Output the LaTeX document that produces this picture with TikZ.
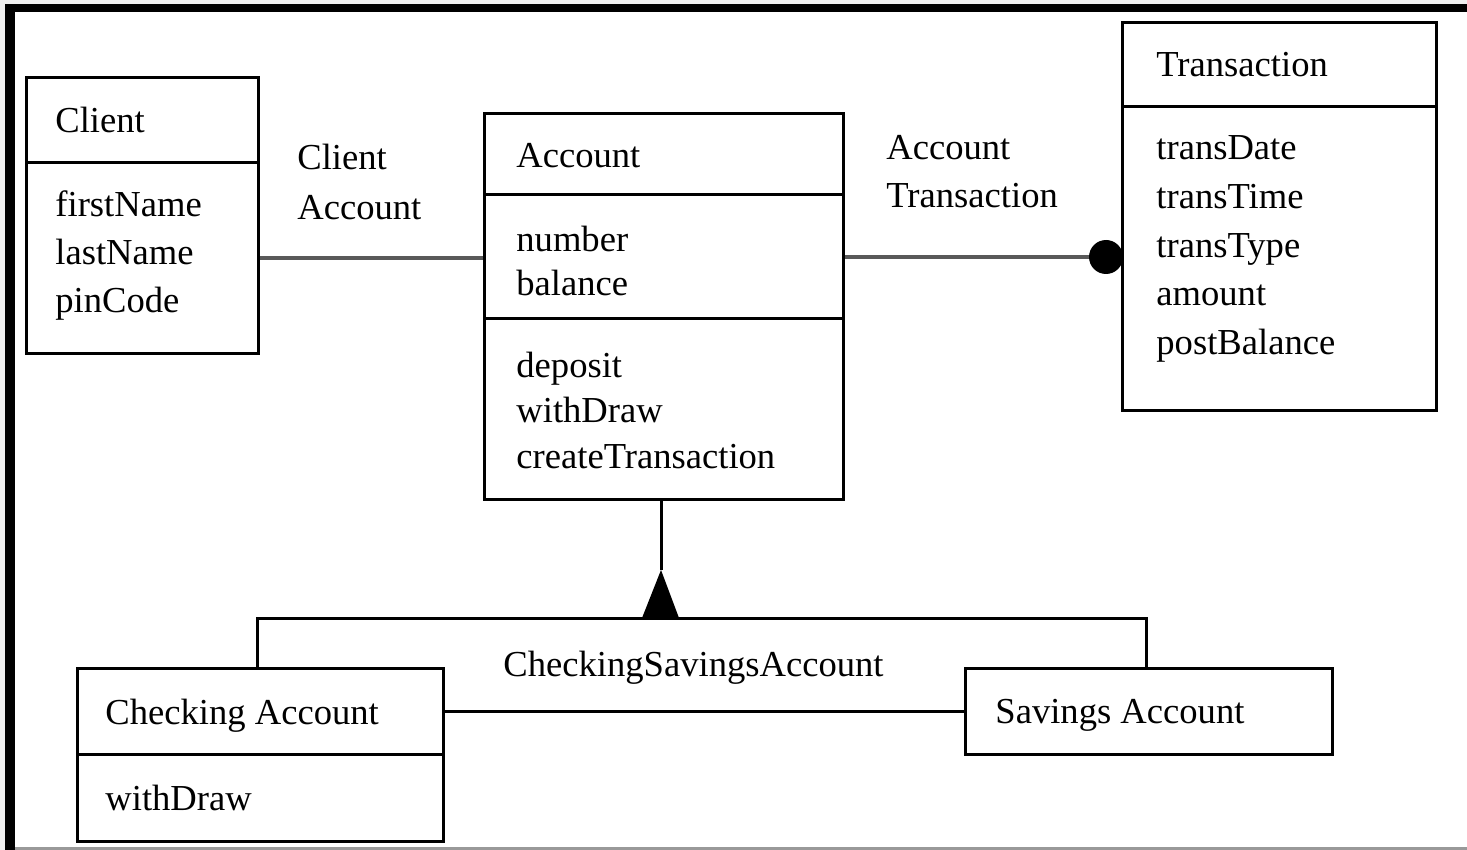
\documentclass[tikz,border=0pt]{standalone}
\usepackage{fontspec}
\setmainfont{Liberation Serif}
\begin{document}
\begin{tikzpicture}[x=0.5pt,y=-0.5pt,
  umlbox/.style={draw=black,line width=1.5pt,fill=white,inner sep=0pt,anchor=north west},
  txt/.style={inner sep=0pt,anchor=base west,font=\fontsize{18.3}{24}\selectfont},
  rule/.style={draw=black,line width=1.5pt},
  assoc/.style={draw=black!65,line width=2.2pt},
  genline/.style={draw=black,line width=1.5pt}]
  % page, outer margin and frame
  \useasboundingbox (0,0) rectangle (1467,850);
  \fill[black!6] (0,0) rectangle (1467,850);
  \fill[black] (5,4) rectangle (1467,12);
  \fill[black] (5,4) rectangle (15,850);
  \fill[white] (15,12) rectangle (1467,847);
  \fill[black!40] (15,847) rectangle (1467,850);

  % class boxes
  \node[umlbox,minimum width=116pt,minimum height=138pt] (client) at (25,76) {};
  \node[umlbox,minimum width=179.5pt,minimum height=193pt] (account) at (483,112) {};
  \node[umlbox,minimum width=157pt,minimum height=194pt] (transaction) at (1121,21) {};
  \node[umlbox,minimum width=183pt,minimum height=86.5pt] (checking) at (76,667) {};
  \node[umlbox,minimum width=183.5pt,minimum height=43pt] (savings) at (964,667) {};

  % compartment dividers
  \draw[rule] (client.west |- 0,163) -- (client.east |- 0,163);
  \draw[rule] (account.west |- 0,195) -- (account.east |- 0,195);
  \draw[rule] (account.west |- 0,319) -- (account.east |- 0,319);
  \draw[rule] (transaction.west |- 0,107) -- (transaction.east |- 0,107);
  \draw[rule] (checking.west |- 0,754) -- (checking.east |- 0,754);

  % Client
  \node[txt] (clientname) at (55,133) {Client};
  \node[txt] (cfirst) at (55,217) {firstName};
  \node[txt] (clast) at (55,265) {lastName};
  \node[txt] (cpin) at (55,313) {pinCode};

  % Account
  \node[txt] (accountname) at (516,168) {Account};
  \node[txt] (anumber) at (516,252) {number};
  \node[txt] (abalance) at (516,296) {balance};
  \node[txt] (adeposit) at (516,377) {deposit};
  \node[txt] (awithdraw) at (516,422) {withDraw};
  \node[txt] (acreate) at (516,468) {createTransaction};

  % Transaction
  \node[txt] (transname) at (1156,77) {Transaction};
  \node[txt] (tdate) at (1156,160) {transDate};
  \node[txt] (ttime) at (1156,209) {transTime};
  \node[txt] (ttype) at (1156,257) {transType};
  \node[txt] (tamount) at (1156,306) {amount};
  \node[txt] (tpost) at (1156,354) {postBalance};

  % Checking / Savings
  \node[txt] (checkname) at (105,724) {Checking Account};
  \node[txt] (cwithdraw) at (105,810) {withDraw};
  \node[txt] (savename) at (995,723) {Savings Account};

  % associations
  \coordinate (caline) at (370,258);
  \draw[assoc] (client.east |- caline) -- (account.west |- caline);
  \node[txt] (ca1) at (297,170) {Client};
  \node[txt] (ca2) at (297,220) {Account};

  \node[circle,fill=black,inner sep=0pt,minimum size=17pt] (dot) at (1106,257) {};
  \draw[assoc] (account.east |- dot) -- (dot);
  \node[txt] (at1) at (886,160) {Account};
  \node[txt] (at2) at (886,208) {Transaction};

  % generalization
  \coordinate (bar) at (661,618);
  \coordinate (apex) at (661,570);
  \draw[genline] (account.south -| apex) -- (apex);
  \draw[genline] (checking.north -| 257,0) -- (257,0 |- bar) -- (1146,0 |- bar) -- (savings.north -| 1146,0);
  \fill[black] (apex) -- (642,618) -- (679,618) -- cycle;
  \node[txt] (genname) at (503,676) {CheckingSavingsAccount};

  \draw[genline] (checking.east |- savings.west) -- (savings.west);
\end{tikzpicture}
\end{document}
